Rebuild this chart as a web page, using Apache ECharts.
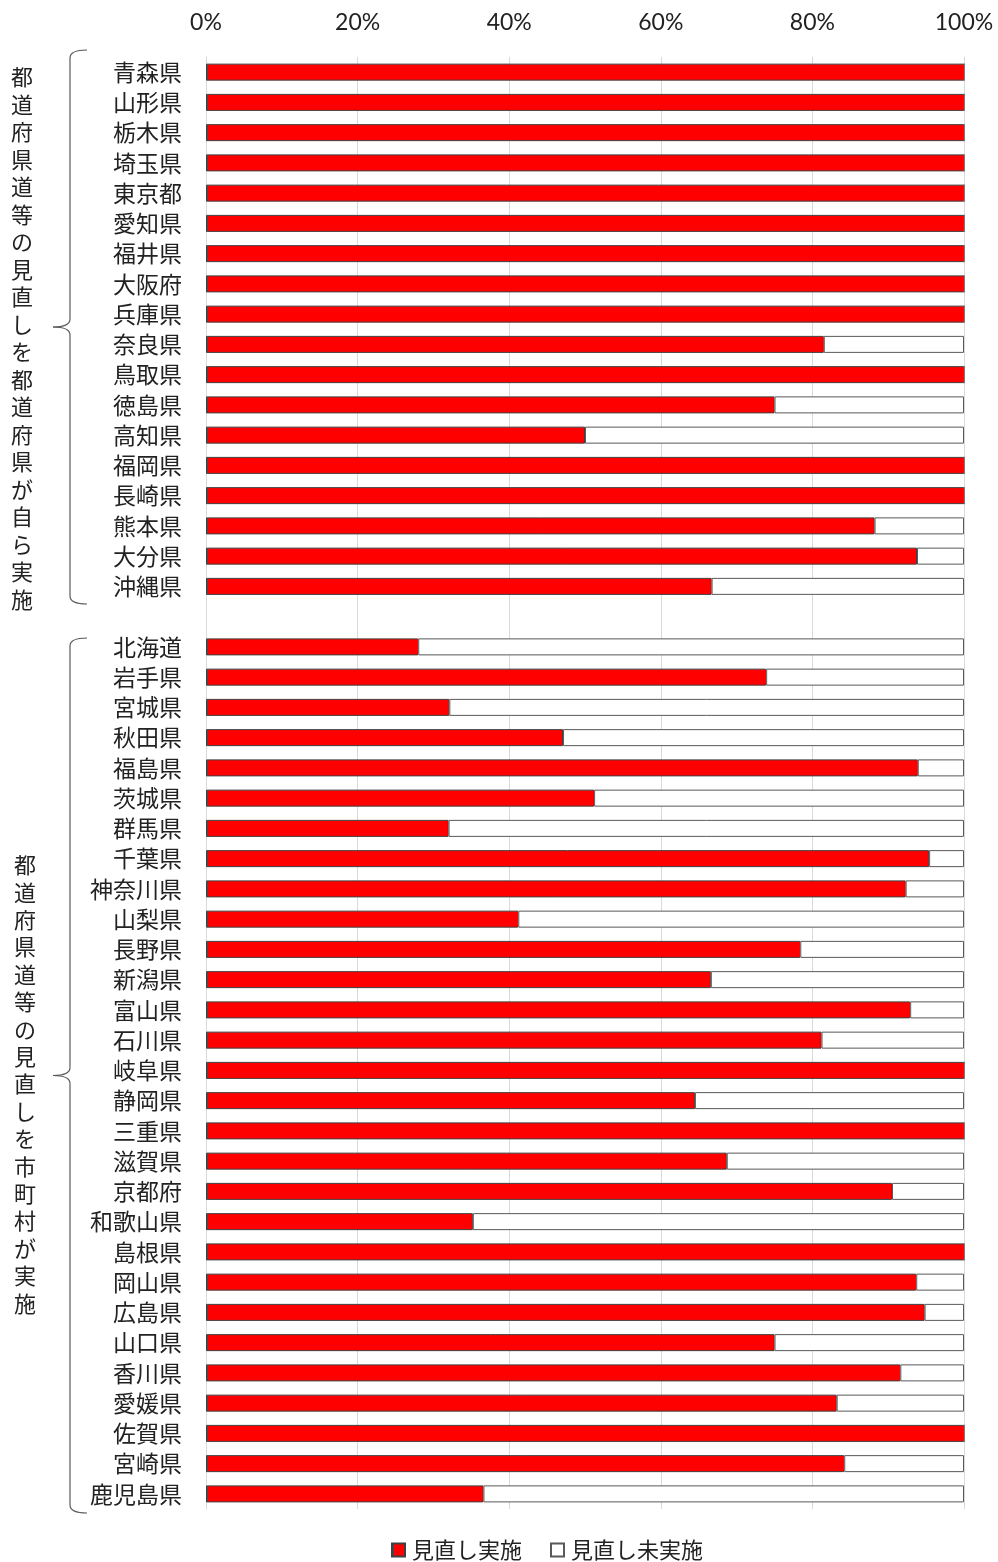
<!DOCTYPE html>
<html>
<head>
<meta charset="utf-8">
<script src="https://cdn.jsdelivr.net/npm/echarts@6/dist/echarts.min.js"></script>
<style>
  html, body { margin: 0; padding: 0; background: #fff; }
  #chart { width: 998px; height: 1562px; }
</style>
</head>
<body>
<div id="chart"></div>
<script>
// Group 1: prefectures reviewing their own roads
const cats1 = ['青森県','山形県','栃木県','埼玉県','東京都','愛知県','福井県','大阪府','兵庫県','奈良県','鳥取県','徳島県','高知県','福岡県','長崎県','熊本県','大分県','沖縄県'];
const done1 = [100,100,100,100,100,100,100,100,100,81.5,100,75,50,100,100,88.2,93.8,66.7];
const notDone1 = [0,0,0,0,0,0,0,0,0,18.5,0,25,50,0,0,11.8,6.2,33.3];

// Group 2: reviews carried out by municipalities
const cats2 = ['北海道','岩手県','宮城県','秋田県','福島県','茨城県','群馬県','千葉県','神奈川県','山梨県','長野県','新潟県','富山県','石川県','岐阜県','静岡県','三重県','滋賀県','京都府','和歌山県','島根県','岡山県','広島県','山口県','香川県','愛媛県','佐賀県','宮崎県','鹿児島県'];
const done2 = [28.0,73.9,32.1,47.1,93.9,51.2,32.0,95.4,92.3,41.2,78.4,66.6,92.9,81.2,100,64.5,100,68.7,90.5,35.2,100,93.7,94.8,75.0,91.6,83.2,100,84.2,36.6];
const notDone2 = [72.0,26.1,67.9,52.9,6.1,48.8,68.0,4.6,7.7,58.8,21.6,33.4,7.1,18.8,0,35.5,0,31.3,9.5,64.8,0,6.3,5.2,25.0,8.4,16.8,0,15.8,63.4];

const xTicks = [0, 20, 40, 60, 80, 100];
const groupLabel1 = '都道府県道等の見直しを都道府県が自ら実施';
const groupLabel2 = '都道府県道等の見直しを市町村が実施';
const seriesNames = ['見直し実施', '見直し未実施'];

// A blank row separates the two groups
const categories = cats1.concat([''], cats2);
const doneData = done1.concat(['-'], done2);
const notDoneData = notDone1.concat(['-'], notDone2);

const JP = '"Noto Sans CJK JP", "Noto Sans", sans-serif';

const chart = echarts.init(document.getElementById('chart'));

// Curly brace built from straight and curved segments
function brace(top, bottom) {
  const mid = (top + bottom) / 2;
  const x = 70, hook = 87, tip = 53, r = 8;
  const st = { fill: 'none', stroke: '#595959', lineWidth: 1.2 };
  const curve = (x1, y1, cx, cy, x2, y2) => ({
    type: 'bezierCurve',
    shape: { x1: x1, y1: y1, cpx1: cx, cpy1: cy, x2: x2, y2: y2 },
    style: st
  });
  const line = (x1, y1, x2, y2) => ({
    type: 'line',
    shape: { x1: x1, y1: y1, x2: x2, y2: y2 },
    style: st
  });
  return {
    type: 'group',
    children: [
      curve(hook, top, x, top, x, top + r),
      line(x, top + r, x, mid - r),
      curve(x, mid - r, x, mid, tip, mid),
      curve(tip, mid, x, mid, x, mid + r),
      line(x, mid + r, x, bottom - r),
      curve(x, bottom - r, x, bottom, hook, bottom)
    ]
  };
}

function vertical(s) { return s.split('').join('\n'); }

chart.setOption({
  animation: false,
  backgroundColor: '#fff',
  grid: { left: 206, right: 34, top: 57, height: 1452, containLabel: false },
  legend: {
    data: seriesNames,
    left: 391,
    top: 1537,
    padding: 0,
    icon: 'rect',
    itemWidth: 13,
    itemHeight: 13,
    itemGap: 28,
    textStyle: { fontFamily: JP, fontSize: 22, lineHeight: 26, color: '#222', padding: [0, 0, 0, 2] }
  },
  xAxis: {
    type: 'value',
    position: 'top',
    min: xTicks[0],
    max: xTicks[xTicks.length - 1],
    interval: 20,
    axisLine: { show: false },
    axisTick: { show: false },
    axisLabel: {
      formatter: '{value}%',
      fontFamily: 'Lato, "Open Sans", sans-serif',
      fontSize: 23,
      color: '#222',
      margin: 23
    },
    splitLine: { lineStyle: { color: '#d9d9d9', width: 1 } }
  },
  yAxis: {
    type: 'category',
    inverse: true,
    data: categories,
    axisLine: { show: true, lineStyle: { color: '#d9d9d9' } },
    axisTick: { show: false },
    axisLabel: {
      fontFamily: JP,
      fontSize: 23,
      color: '#222',
      margin: 24
    }
  },
  series: [
    {
      name: seriesNames[0],
      type: 'bar',
      stack: 'total',
      barWidth: 17,
      data: doneData,
      itemStyle: { color: '#ff0000', borderColor: '#404040', borderWidth: 1 }
    },
    {
      name: seriesNames[1],
      type: 'bar',
      stack: 'total',
      barWidth: 17,
      data: notDoneData,
      itemStyle: { color: '#ffffff', borderColor: '#595959', borderWidth: 1 }
    }
  ],
  graphic: [
    brace(50, 604),
    brace(638, 1513),
    {
      type: 'text',
      x: 22,
      y: 338,
      style: {
        text: vertical(groupLabel1),
        fontFamily: JP,
        fontSize: 22,
        lineHeight: 27.5,
        fill: '#222',
        align: 'center',
        verticalAlign: 'middle'
      }
    },
    {
      type: 'text',
      x: 25,
      y: 1084,
      style: {
        text: vertical(groupLabel2),
        fontFamily: JP,
        fontSize: 22,
        lineHeight: 27.4,
        fill: '#222',
        align: 'center',
        verticalAlign: 'middle'
      }
    }
  ]
});
</script>
</body>
</html>
